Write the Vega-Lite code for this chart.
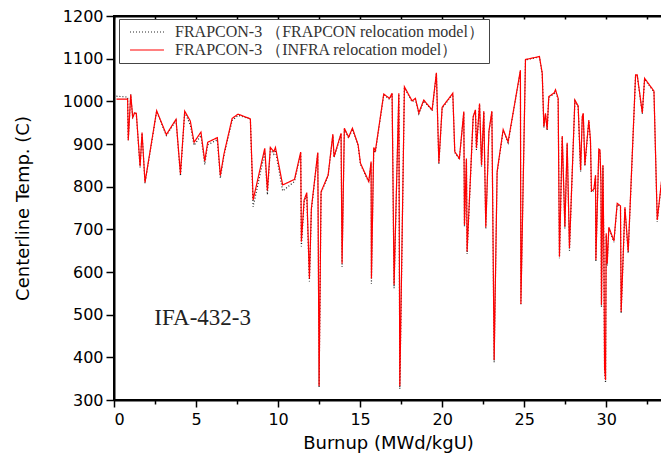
{
  "$schema": "https://vega.github.io/schema/vega-lite/v6.json",
  "width": 548,
  "height": 384,
  "autosize": {"type": "none"},
  "padding": {"left": 114, "top": 16, "right": 0, "bottom": 61},
  "background": "white",
  "config": {
    "view": {"stroke": "#000", "strokeWidth": 2},
    "axis": {
      "domainColor": "#000",
      "domainWidth": 2,
      "tickColor": "#000",
      "tickWidth": 1.5,
      "grid": false,
      "labelFont": "DejaVu Sans",
      "labelFontSize": 16,
      "labelColor": "#000",
      "titleFont": "DejaVu Sans",
      "titleFontSize": 18,
      "titleFontWeight": "normal",
      "titleColor": "#000"
    },
    "legend": {
      "orient": "none",
      "legendX": 5,
      "legendY": 3,
      "labelFont": "Liberation Serif",
      "labelFontSize": 16,
      "labelColor": "#333333",
      "labelLimit": 600,
      "symbolType": "M-4,0H4",
      "symbolSize": 72,
      "symbolStrokeWidth": 1.2,
      "symbolOffset": 15,
      "labelOffset": 20,
      "strokeColor": "#444444",
      "padding": 5,
      "rowPadding": 2
    }
  },
  "resolve": {"axis": {"x": "independent"}},
  "layer": [
    {
      "data": {
        "values": [
          {"b": 0.15, "infra": 1005, "frapcon": 1012},
          {"b": 0.83, "infra": 1005, "frapcon": 1010},
          {"b": 0.87, "infra": 909, "frapcon": 909},
          {"b": 1.02, "infra": 1016, "frapcon": 1016},
          {"b": 1.14, "infra": 963, "frapcon": 960},
          {"b": 1.26, "infra": 973, "frapcon": 975},
          {"b": 1.36, "infra": 972, "frapcon": 970},
          {"b": 1.59, "infra": 848, "frapcon": 845},
          {"b": 1.71, "infra": 927, "frapcon": 925},
          {"b": 1.89, "infra": 810, "frapcon": 808},
          {"b": 2.6, "infra": 978, "frapcon": 976},
          {"b": 3.19, "infra": 922, "frapcon": 920},
          {"b": 3.78, "infra": 958, "frapcon": 955},
          {"b": 4.05, "infra": 830, "frapcon": 825},
          {"b": 4.31, "infra": 977, "frapcon": 975},
          {"b": 4.65, "infra": 954, "frapcon": 945},
          {"b": 4.88, "infra": 904, "frapcon": 897},
          {"b": 5.3, "infra": 928, "frapcon": 920},
          {"b": 5.53, "infra": 860, "frapcon": 852},
          {"b": 5.71, "infra": 904, "frapcon": 898},
          {"b": 6.3, "infra": 915, "frapcon": 910},
          {"b": 6.48, "infra": 826, "frapcon": 820},
          {"b": 6.71, "infra": 878, "frapcon": 875},
          {"b": 7.2, "infra": 960, "frapcon": 955},
          {"b": 7.56, "infra": 970, "frapcon": 967},
          {"b": 8.31, "infra": 959, "frapcon": 959},
          {"b": 8.48, "infra": 769, "frapcon": 753},
          {"b": 9.19, "infra": 890, "frapcon": 880},
          {"b": 9.35, "infra": 791, "frapcon": 781},
          {"b": 9.53, "infra": 892, "frapcon": 888},
          {"b": 9.74, "infra": 882, "frapcon": 876},
          {"b": 9.84, "infra": 892, "frapcon": 886},
          {"b": 10.28, "infra": 804, "frapcon": 790},
          {"b": 11.0, "infra": 817, "frapcon": 812},
          {"b": 11.38, "infra": 881, "frapcon": 878},
          {"b": 11.42, "infra": 671, "frapcon": 660},
          {"b": 11.59, "infra": 769, "frapcon": 765},
          {"b": 11.75, "infra": 786, "frapcon": 780},
          {"b": 11.91, "infra": 585, "frapcon": 578},
          {"b": 12.03, "infra": 749, "frapcon": 745},
          {"b": 12.42, "infra": 880, "frapcon": 878},
          {"b": 12.5, "infra": 333, "frapcon": 330},
          {"b": 12.62, "infra": 788, "frapcon": 786},
          {"b": 13.05, "infra": 827, "frapcon": 825},
          {"b": 13.34, "infra": 923, "frapcon": 920},
          {"b": 13.41, "infra": 870, "frapcon": 868},
          {"b": 13.84, "infra": 925, "frapcon": 923},
          {"b": 13.9, "infra": 620, "frapcon": 612},
          {"b": 14.04, "infra": 937, "frapcon": 935},
          {"b": 14.3, "infra": 916, "frapcon": 914},
          {"b": 14.53, "infra": 937, "frapcon": 935},
          {"b": 14.88, "infra": 898, "frapcon": 896},
          {"b": 15.02, "infra": 855, "frapcon": 853},
          {"b": 15.53, "infra": 812, "frapcon": 810},
          {"b": 15.67, "infra": 859, "frapcon": 855},
          {"b": 15.69, "infra": 585, "frapcon": 572},
          {"b": 15.83, "infra": 892, "frapcon": 885},
          {"b": 15.93, "infra": 884, "frapcon": 880},
          {"b": 16.44, "infra": 1017, "frapcon": 1015},
          {"b": 16.79, "infra": 1007, "frapcon": 1005},
          {"b": 16.95, "infra": 1019, "frapcon": 1017},
          {"b": 17.07, "infra": 570, "frapcon": 562},
          {"b": 17.36, "infra": 1019, "frapcon": 1017},
          {"b": 17.42, "infra": 333, "frapcon": 326},
          {"b": 17.7, "infra": 1034, "frapcon": 1032},
          {"b": 18.17, "infra": 1001, "frapcon": 999},
          {"b": 18.37, "infra": 1007, "frapcon": 1005},
          {"b": 18.58, "infra": 973, "frapcon": 971},
          {"b": 18.88, "infra": 1003, "frapcon": 1001},
          {"b": 19.39, "infra": 980, "frapcon": 978},
          {"b": 19.65, "infra": 1067, "frapcon": 1065},
          {"b": 19.8, "infra": 856, "frapcon": 852},
          {"b": 20.0, "infra": 986, "frapcon": 984},
          {"b": 20.65, "infra": 1019, "frapcon": 1017},
          {"b": 20.77, "infra": 882, "frapcon": 880},
          {"b": 21.05, "infra": 866, "frapcon": 864},
          {"b": 21.32, "infra": 976, "frapcon": 974},
          {"b": 21.36, "infra": 710, "frapcon": 705},
          {"b": 21.48, "infra": 866, "frapcon": 862},
          {"b": 21.52, "infra": 648, "frapcon": 642},
          {"b": 21.89, "infra": 964, "frapcon": 962},
          {"b": 22.03, "infra": 980, "frapcon": 978},
          {"b": 22.09, "infra": 890, "frapcon": 886},
          {"b": 22.28, "infra": 995, "frapcon": 993},
          {"b": 22.4, "infra": 851, "frapcon": 847},
          {"b": 22.54, "infra": 977, "frapcon": 975},
          {"b": 22.66, "infra": 705, "frapcon": 700},
          {"b": 22.85, "infra": 929, "frapcon": 927},
          {"b": 23.03, "infra": 977, "frapcon": 975},
          {"b": 23.17, "infra": 394, "frapcon": 388},
          {"b": 23.35, "infra": 835, "frapcon": 832},
          {"b": 23.72, "infra": 934, "frapcon": 932},
          {"b": 24.02, "infra": 905, "frapcon": 903},
          {"b": 24.77, "infra": 1073, "frapcon": 1071},
          {"b": 24.8, "infra": 525, "frapcon": 522},
          {"b": 25.08, "infra": 1098, "frapcon": 1097},
          {"b": 25.93, "infra": 1105, "frapcon": 1104},
          {"b": 26.1, "infra": 1066, "frapcon": 1064},
          {"b": 26.2, "infra": 941, "frapcon": 938},
          {"b": 26.3, "infra": 972, "frapcon": 970},
          {"b": 26.4, "infra": 934, "frapcon": 932},
          {"b": 26.5, "infra": 1011, "frapcon": 1009},
          {"b": 26.83, "infra": 1020, "frapcon": 1018},
          {"b": 26.91, "infra": 1027, "frapcon": 1025},
          {"b": 27.07, "infra": 1007, "frapcon": 1005},
          {"b": 27.15, "infra": 636, "frapcon": 632},
          {"b": 27.32, "infra": 919, "frapcon": 917},
          {"b": 27.48, "infra": 706, "frapcon": 702},
          {"b": 27.62, "infra": 903, "frapcon": 900},
          {"b": 27.76, "infra": 656, "frapcon": 650},
          {"b": 27.87, "infra": 773, "frapcon": 770},
          {"b": 28.09, "infra": 1003, "frapcon": 1001},
          {"b": 28.29, "infra": 989, "frapcon": 987},
          {"b": 28.44, "infra": 839, "frapcon": 835},
          {"b": 28.54, "infra": 964, "frapcon": 962},
          {"b": 28.6, "infra": 972, "frapcon": 970},
          {"b": 28.7, "infra": 851, "frapcon": 848},
          {"b": 28.94, "infra": 956, "frapcon": 954},
          {"b": 29.04, "infra": 909, "frapcon": 906},
          {"b": 29.1, "infra": 790, "frapcon": 787},
          {"b": 29.25, "infra": 794, "frapcon": 791},
          {"b": 29.35, "infra": 827, "frapcon": 824},
          {"b": 29.37, "infra": 628, "frapcon": 624},
          {"b": 29.55, "infra": 888, "frapcon": 886},
          {"b": 29.62, "infra": 886, "frapcon": 884},
          {"b": 29.68, "infra": 808, "frapcon": 805},
          {"b": 29.71, "infra": 523, "frapcon": 518},
          {"b": 29.8, "infra": 851, "frapcon": 848},
          {"b": 29.86, "infra": 636, "frapcon": 630},
          {"b": 29.9, "infra": 374, "frapcon": 368},
          {"b": 29.96, "infra": 347, "frapcon": 340},
          {"b": 30.0, "infra": 691, "frapcon": 686},
          {"b": 30.06, "infra": 620, "frapcon": 615},
          {"b": 30.16, "infra": 705, "frapcon": 702},
          {"b": 30.47, "infra": 673, "frapcon": 670},
          {"b": 30.67, "infra": 761, "frapcon": 758},
          {"b": 30.87, "infra": 755, "frapcon": 752},
          {"b": 30.91, "infra": 507, "frapcon": 503},
          {"b": 31.14, "infra": 752, "frapcon": 749},
          {"b": 31.34, "infra": 648, "frapcon": 644},
          {"b": 31.79, "infra": 1062, "frapcon": 1060},
          {"b": 31.89, "infra": 1062, "frapcon": 1060},
          {"b": 32.2, "infra": 973, "frapcon": 971},
          {"b": 32.34, "infra": 1054, "frapcon": 1052},
          {"b": 32.91, "infra": 1024, "frapcon": 1022},
          {"b": 33.11, "infra": 722, "frapcon": 718},
          {"b": 33.4, "infra": 823, "frapcon": 820}
        ]
      },
      "transform": [{"fold": ["frapcon", "infra"], "as": ["model", "temp"]}],
      "mark": {"type": "line", "strokeWidth": 1.2, "clip": true},
      "encoding": {
        "x": {
          "field": "b",
          "type": "quantitative",
          "scale": {"domain": [0, 33.4], "nice": false, "zero": false},
          "axis": {
            "title": "Burnup (MWd/kgU)",
            "format": "d",
            "values": [0, 2.5, 5, 7.5, 10, 12.5, 15, 17.5, 20, 22.5, 25, 27.5, 30, 32.5],
            "labelExpr": "datum.value % 5 === 0 ? datum.label : ''",
            "tickSize": {"condition": {"test": "datum.value % 5 === 0", "value": 7}, "value": 4},
            "labelPadding": 4,
            "titlePadding": 7
          }
        },
        "y": {
          "field": "temp",
          "type": "quantitative",
          "scale": {"domain": [300, 1200], "nice": false, "zero": false},
          "axis": {
            "title": "Centerline Temp. (C)",
            "format": "d",
            "values": [300, 350, 400, 450, 500, 550, 600, 650, 700, 750, 800, 850, 900, 950, 1000, 1050, 1100, 1150, 1200],
            "labelExpr": "datum.value % 100 === 0 ? datum.label : ''",
            "tickSize": {"condition": {"test": "datum.value % 100 === 0", "value": 8}, "value": 5},
            "labelPadding": 3,
            "titlePadding": 30
          }
        },
        "color": {
          "field": "model",
          "type": "nominal",
          "scale": {"domain": ["frapcon", "infra"], "range": ["#222222", "#ff0000"]},
          "legend": {
            "title": null,
            "labelExpr": "datum.label === 'frapcon' ? 'FRAPCON-3 （FRAPCON relocation model）\u3000  ' : 'FRAPCON-3 （INFRA relocation model）'"
          }
        },
        "strokeDash": {
          "field": "model",
          "type": "nominal",
          "scale": {"domain": ["frapcon", "infra"], "range": [[1, 2], [1, 0]]},
          "legend": {
            "title": null,
            "labelExpr": "datum.label === 'frapcon' ? 'FRAPCON-3 （FRAPCON relocation model）\u3000  ' : 'FRAPCON-3 （INFRA relocation model）'"
          }
        }
      }
    },
    {
      "data": {"values": [{"b": 2.46, "t": 476, "label": "IFA-432-3"}]},
      "mark": {"type": "text", "font": "Liberation Serif", "fontSize": 23, "align": "left", "baseline": "alphabetic", "color": "#222222"},
      "encoding": {
        "x": {
          "field": "b",
          "type": "quantitative",
          "axis": {
            "orient": "top",
            "title": null,
            "labels": false,
            "values": [0, 2.5, 5, 7.5, 10, 12.5, 15, 17.5, 20, 22.5, 25, 27.5, 30, 32.5],
            "tickSize": -3
          }
        },
        "y": {"field": "t", "type": "quantitative"},
        "text": {"field": "label"}
      }
    }
  ]
}
